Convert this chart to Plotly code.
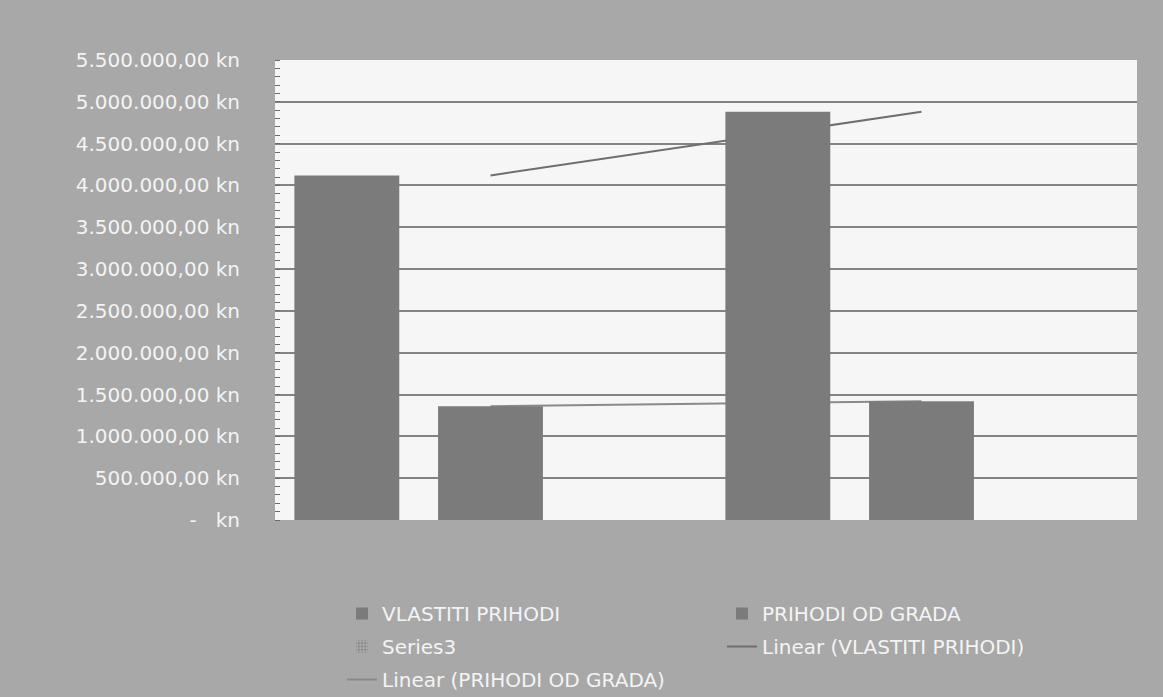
import numpy as np
import plotly.graph_objects as go

categories = ["A", "B"]
vlastiti_prihodi = [4120000, 4880000]
prihodi_od_grada = [1360000, 1420000]
series3 = [0, 0]
tick_values = [0, 500000, 1000000, 1500000, 2000000, 2500000, 3000000,
               3500000, 4000000, 4500000, 5000000, 5500000]
tick_labels = ["-   kn", "500.000,00 kn", "1.000.000,00 kn", "1.500.000,00 kn",
               "2.000.000,00 kn", "2.500.000,00 kn", "3.000.000,00 kn",
               "3.500.000,00 kn", "4.000.000,00 kn", "4.500.000,00 kn",
               "5.000.000,00 kn", "5.500.000,00 kn"]

# linear trend lines (least squares over category index)
idx = np.arange(len(categories))
def linear(vals):
    k, b = np.polyfit(idx, vals, 1)
    return list(k * idx + b)

FONT = "DejaVu Sans"
TXT = "#f4f4f4"
BAR = "#7b7b7b"

fig = go.Figure()
fig.add_trace(go.Bar(x=categories, y=vlastiti_prihodi, name="VLASTITI PRIHODI",
                     marker=dict(color=BAR, line=dict(width=0)),
                     legend="legend", legendgroup="a", zorder=1))
fig.add_trace(go.Bar(x=categories, y=prihodi_od_grada, name="PRIHODI OD GRADA",
                     marker=dict(color=BAR, line=dict(width=0)),
                     legend="legend2", legendgroup="b", zorder=1))
fig.add_trace(go.Bar(x=categories, y=series3, name="Series3",
                     marker=dict(color="#8c8c8c", line=dict(width=0),
                                 pattern=dict(shape=".", fgcolor="#d8d8d8", size=4, solidity=0.4)),
                     legend="legend", legendgroup="c", zorder=1))
fig.add_trace(go.Scatter(x=categories, y=linear(vlastiti_prihodi), mode="lines",
                         name="Linear (VLASTITI PRIHODI)",
                         line=dict(color="#6e6e6e", width=2),
                         legend="legend2", legendgroup="d", zorder=0))
fig.add_trace(go.Scatter(x=categories, y=linear(prihodi_od_grada), mode="lines",
                         name="Linear (PRIHODI OD GRADA)",
                         line=dict(color="#8a8a8a", width=2),
                         legend="legend", legendgroup="e", zorder=0))

legend_common = dict(orientation="v", bgcolor="rgba(0,0,0,0)",
                     font=dict(family=FONT, size=20, color=TXT),
                     xref="container", yref="container", xanchor="left", yanchor="top",
                     tracegroupgap=4, traceorder="grouped")

fig.update_layout(
    width=1163, height=697,
    paper_bgcolor="#a8a8a8", plot_bgcolor="#f6f6f6",
    margin=dict(l=275, r=26, t=60, b=177, autoexpand=False),
    barmode="group", bargap=0.0, bargroupgap=0.27,
    font=dict(family=FONT, size=20, color=TXT),
    legend=dict(x=342 / 1163, y=1 - 594 / 697, **legend_common),
    legend2=dict(x=722 / 1163, y=1 - 594 / 697, **legend_common),
    xaxis=dict(type="category", showticklabels=False, showgrid=False, zeroline=False,
               showline=False, ticks="", range=[-0.5, 1.5]),
    yaxis=dict(range=[0, 5500000], tickvals=tick_values, ticktext=tick_labels,
               showgrid=True, gridcolor="#838383", gridwidth=1.6,
               zeroline=False, showline=False, ticks="",
               ticklabelstandoff=34, automargin=False,
               tickfont=dict(family=FONT, size=20, color=TXT),
               minor=dict(dtick=100000, ticks="inside", ticklen=5,
                          tickcolor="#6a6a6a", showgrid=False)),
)

fig.write_html("out.html", config={"displayModeBar": False},
               post_script="document.body.style.margin='0';document.body.style.overflow='hidden';")
